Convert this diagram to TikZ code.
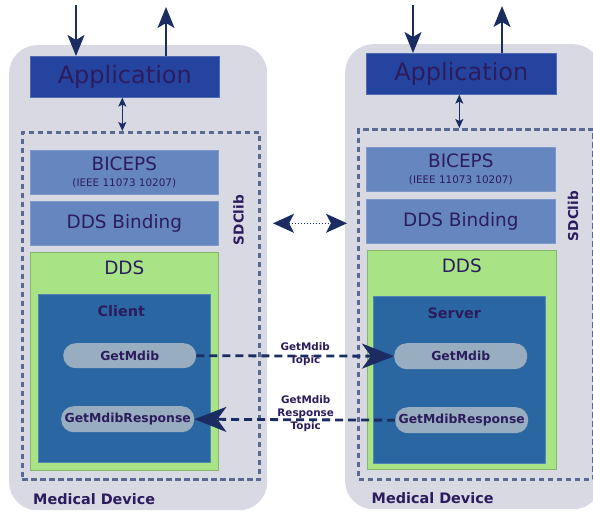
\documentclass[tikz,border=0pt]{standalone}
\usepackage{fontspec}
\setmainfont{DejaVu Sans}
\usetikzlibrary{arrows.meta}

\definecolor{devgray}{RGB}{217,217,228}
\definecolor{appblue}{RGB}{37,68,160}
\definecolor{layerblue}{RGB}{102,134,192}
\definecolor{ddsgreen}{RGB}{168,228,134}
\definecolor{roleblue}{RGB}{42,102,162}
\definecolor{msggray}{RGB}{152,174,192}
\definecolor{txtpurple}{RGB}{44,28,94}
\definecolor{arrownavy}{RGB}{27,44,98}
\definecolor{dashgray}{RGB}{88,106,146}

\tikzset{
	sz/.style 2 args={minimum width=#1pt, minimum height=#2pt},
	blk/.style={anchor=north west, inner sep=0pt, text=txtpurple},
	device/.style={blk, fill=devgray, rounded corners=28pt},
	app/.style={blk, fill=appblue, draw=appblue!80!white, line width=0.6pt, font=\fontsize{24}{28}\selectfont},
	layer/.style={blk, fill=layerblue, draw=layerblue!85!white, line width=0.6pt, align=center, font=\fontsize{18.4}{20}\selectfont},
	dds/.style={blk, fill=ddsgreen, draw=ddsgreen!80!black, line width=0.6pt},
	role/.style={blk, fill=roleblue, draw=roleblue!80!white, line width=0.6pt},
	msg/.style={blk, fill=msggray, rounded corners=12.5pt, font=\bfseries\fontsize{12.4}{14}\selectfont},
	lib/.style={blk, draw=dashgray, line width=3pt, dash pattern=on 5.5pt off 3.5pt},
	tag/.style={inner sep=0pt, text=txtpurple, font=\bfseries\fontsize{14.4}{17}\selectfont},
	ddslbl/.style={inner sep=0pt, text=txtpurple, font=\fontsize{18.4}{21}\selectfont},
	topiclbl/.style={inner sep=0pt, text=txtpurple, align=center, font=\bfseries\fontsize{10.4}{13}\selectfont},
	io/.style={draw=arrownavy, line width=1.8pt, -{Stealth[length=21pt, width=17pt, inset=5pt]}},
	link/.style={draw=arrownavy, line width=1.3pt, {Stealth[length=9pt, width=8pt, inset=2pt]}-{Stealth[length=9pt, width=8pt, inset=2pt]}},
	topic/.style={draw=arrownavy, line width=2.8pt, dash pattern=on 8pt off 5pt, -{Stealth[length=32pt, width=25pt, inset=9pt]}},
	peer/.style={draw=arrownavy, line width=1.4pt, dash pattern=on 1.5pt off 1.5pt, {Stealth[length=21pt, width=19pt, inset=5pt]}-{Stealth[length=21pt, width=19pt, inset=5pt]}}
}

\begin{document}
\begin{tikzpicture}[x=1pt, y=1pt]
	\useasboundingbox (0,0) rectangle (593,-512);

	% left medical device
	\node[device, sz={258}{465}] (devL) at (9,-45) {};
	\node[lib, sz={237.5}{347}] (sdcL) at (20.5,-131) {};
	\node[app, sz={189}{41}] (appL) at (30,-56) {Application};
	\node[layer, sz={188}{44}] (bicL) at (30,-150) {BICEPS\\[-4.5pt]{\fontsize{10.4}{12}\selectfont (IEEE 11073 10207)}};
	\node[layer, sz={188}{44}] (bindL) at (30,-201) {DDS Binding};
	\node[dds, sz={188}{218}] (ddsL) at (30,-252) {};
	\node[ddslbl] (ddsLt) at ([yshift=-16pt]ddsL.north) {DDS};
	\node[role, sz={172}{168}] (cliL) at (38,-294) {};
	\node[tag] (cliLt) at ([xshift=-3pt, yshift=-17pt]cliL.north) {Client};
	\node[msg, sz={133}{25}] (getL) at (63,-343) {GetMdib};
	\node[msg, sz={133}{26}] (respL) at (61,-406) {GetMdibResponse};
	\node[tag, rotate=90, font=\bfseries\fontsize{13.6}{16}\selectfont] (libL) at (238.5,-220) {SDClib};
	\node[tag, anchor=west] (mdL) at (33,-499) {Medical Device};

	% right medical device
	\node[device, sz={256}{465}] (devR) at (345,-44) {};
	\node[lib, sz={235}{350}] (sdcR) at (357,-128) {};
	\node[app, sz={190}{41}] (appR) at (366,-53) {Application};
	\node[layer, sz={189}{44}] (bicR) at (366,-147) {BICEPS\\[-4.5pt]{\fontsize{10.4}{12}\selectfont (IEEE 11073 10207)}};
	\node[layer, sz={189}{44}] (bindR) at (366,-199) {DDS Binding};
	\node[dds, sz={189}{219}] (ddsR) at (367,-250) {};
	\node[ddslbl] (ddsRt) at ([yshift=-16pt]ddsR.north) {DDS};
	\node[role, sz={172}{167}] (srvR) at (373,-296) {};
	\node[tag] (srvRt) at ([xshift=-5pt, yshift=-17pt]srvR.north) {Server};
	\node[msg, sz={133}{26}] (getR) at (394,-343) {GetMdib};
	\node[msg, sz={133}{26}] (respR) at (395,-407) {GetMdibResponse};
	\node[tag, rotate=90, font=\bfseries\fontsize{13.6}{16}\selectfont] (libR) at (573,-216) {SDClib};
	\node[tag, anchor=west] (mdR) at (371.5,-498) {Medical Device};

	% application in/out
	\coordinate (inL) at (76,-5);
	\coordinate (outL) at (166,-7);
	\coordinate (inR) at (413,-5);
	\coordinate (outR) at (502,-6);
	\draw[io] (inL) -- (inL |- appL.north);
	\draw[io] (outL |- appL.north) -- (outL);
	\draw[io] (inR) -- (inR |- appR.north);
	\draw[io] (outR |- appR.north) -- (outR);

	% application <-> sdclib
	\coordinate (lkL) at ([xshift=-2.5pt]appL.south);
	\coordinate (lkR) at ([xshift=-2pt]appR.south);
	\draw[link] (lkL) -- (lkL |- sdcL.north);
	\draw[link] (lkR) -- (lkR |- sdcR.north);

	% device <-> device
	\coordinate (pL) at (sdcL.east |- bindL.east);
	\coordinate (pR) at (sdcR.west |- bindL.east);
	\draw[peer] ([xshift=12pt]pL) -- ([xshift=-10pt]pR);

	% topics
	\draw[topic] (getL.east) -- node[topiclbl, xshift=10pt, yshift=1.5pt] (tGet) {GetMdib\\Topic} (getR.west);
	\draw[topic] (respR.west) -- node[topiclbl, xshift=11pt, yshift=6.5pt] (tResp) {GetMdib\\Response\\Topic} (respL.east);
\end{tikzpicture}
\end{document}
